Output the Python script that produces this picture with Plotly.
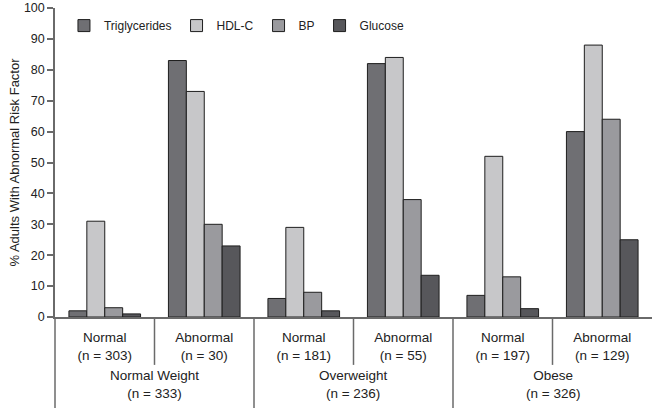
import plotly.graph_objects as go

# ---- data ----
sub_labels = ["Normal<br>(n = 303)", "Abnormal<br>(n = 30)",
              "Normal<br>(n = 181)", "Abnormal<br>(n = 55)",
              "Normal<br>(n = 197)", "Abnormal<br>(n = 129)"]
group_labels = ["Normal Weight<br>(n = 333)", "Overweight<br>(n = 236)", "Obese<br>(n = 326)"]
series_names = ["Triglycerides", "HDL-C", "BP", "Glucose"]
triglycerides = [2, 83, 6, 82, 7, 60]
hdl_c = [31, 73, 29, 84, 52, 88]
bp = [3, 30, 8, 38, 13, 64]
glucose = [1, 23, 2, 13.5, 2.7, 25]
y_ticks = [0, 10, 20, 30, 40, 50, 60, 70, 80, 90, 100]

colors = ["#6f6f73", "#c7c7c9", "#9a9a9e", "#57575b"]
series_values = [triglycerides, hdl_c, bp, glucose]

FONT = "Liberation Sans, Arial, sans-serif"
LINE = "#6a6a6a"

fig = go.Figure()
for name, vals, col in zip(series_names, series_values, colors):
    fig.add_trace(go.Bar(
        x=sub_labels, y=vals, name=name,
        marker=dict(color=col, line=dict(color="#1e1e1e", width=1)),
    ))

shapes = []
# left boundary line extending below axis
shapes.append(dict(type="line", xref="paper", yref="paper", x0=0, x1=0, y0=0, y1=-0.35,
                   line=dict(color=LINE, width=1.5)))
# dividers between sub categories (short) and groups (full)
for i in range(len(sub_labels) - 1):
    pos = i + 0.5
    short = (i % 2 == 0)
    shapes.append(dict(type="line", xref="x", yref="paper", x0=pos, x1=pos,
                       y0=0, y1=(-0.155 if short else -0.35),
                       line=dict(color=LINE, width=1.5)))

annotations = []
for g, lab in enumerate(group_labels):
    annotations.append(dict(text=lab, xref="x", yref="paper", x=2 * g + 0.5, y=-0.217,
                            showarrow=False, yanchor="middle", xanchor="center",
                            font=dict(size=13.5, color="#222", family=FONT)))

fig.update_layout(
    width=652, height=408,
    margin=dict(l=55, r=0, t=8, b=91),
    paper_bgcolor="white", plot_bgcolor="white",
    barmode="group", bargap=0.28, bargroupgap=0,
    font=dict(family=FONT, color="#222"),
    shapes=shapes, annotations=annotations,
    legend=dict(orientation="h", x=0.015, y=0.99, xanchor="left", yanchor="top",
                font=dict(size=12, color="#222", family=FONT), bgcolor="rgba(0,0,0,0)",
                itemwidth=30, traceorder="normal"),
    showlegend=True,
)
fig.update_xaxes(type="category", showline=True, linecolor=LINE, linewidth=1.5,
                 ticks="", showgrid=False, tickfont=dict(size=13.5, color="#222", family=FONT),
                 ticklabelstandoff=7, automargin=False)
fig.update_yaxes(range=[0, 100], tickvals=y_ticks, showline=True, linecolor=LINE, linewidth=1.5,
                 ticks="outside", ticklen=6, tickcolor=LINE, tickwidth=1.5, showgrid=False,
                 zeroline=False, tickfont=dict(size=12.5, color="#222", family=FONT),
                 automargin=False, ticklabeloverflow="allow",
                 title=dict(text="% Adults With Abnormal Risk Factor", standoff=1,
                            font=dict(size=13, color="#222", family=FONT)))

fig.write_html("out.html", config={"displayModeBar": False},
               post_script="document.body.style.margin='0px';")
